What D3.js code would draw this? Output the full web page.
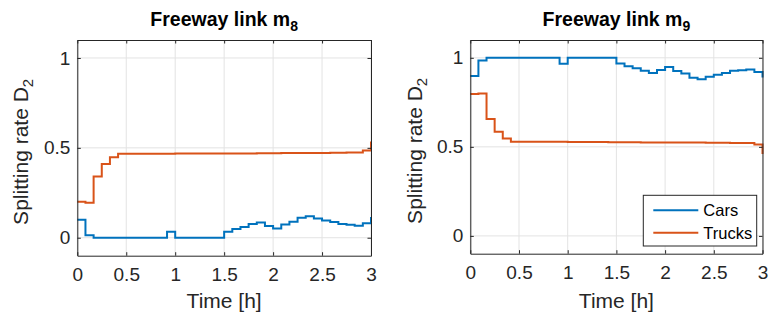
<!DOCTYPE html>
<html>
<head>
<meta charset="utf-8">
<script src="https://cdn.jsdelivr.net/npm/d3@7"></script>
<style>
  html, body { margin: 0; padding: 0; background: #fff; }
  svg { display: block; font-family: "Liberation Sans", Arial, Helvetica, sans-serif; }
</style>
</head>
<body>
<svg id="chart" width="771" height="322"></svg>
<script>
// ---- data (5-minute steps, 0..3 h; last value drawn as final stair riser) ----
const stepHours = 1 / 12;
const seriesNames = ["Cars", "Trucks"];
const xTicks = [0, 0.5, 1, 1.5, 2, 2.5, 3];
const xTickLabels = ["0", "0.5", "1", "1.5", "2", "2.5", "3"];
const yTicks = [0, 0.5, 1];
const yTickLabels = ["0", "0.5", "1"];
const titles = ["Freeway link m", "Freeway link m"];
const titleSubs = ["8", "9"];

const m8Cars = [0.100, 0.014, 0, 0, 0, 0, 0, 0, 0, 0, 0, 0.033, 0, 0, 0, 0, 0, 0,
  0.033, 0.048, 0.059, 0.076, 0.085, 0.065, 0.052, 0.074, 0.089, 0.111, 0.119, 0.107,
  0.096, 0.087, 0.076, 0.072, 0.067, 0.080, 0.115];
const m8Trucks = [0.200, 0.195, 0.340, 0.410, 0.448, 0.467, 0.467, 0.467, 0.467, 0.467,
  0.467, 0.467, 0.468, 0.468, 0.468, 0.468, 0.468, 0.468, 0.469, 0.469, 0.469, 0.469,
  0.470, 0.470, 0.470, 0.471, 0.471, 0.471, 0.472, 0.472, 0.472, 0.473, 0.473, 0.474,
  0.474, 0.485, 0.535];
const m9Cars = [0.898, 0.985, 1, 1, 1, 1, 1, 1, 1, 1, 1, 0.966, 1, 1, 1, 1, 1, 1,
  0.968, 0.953, 0.941, 0.927, 0.915, 0.931, 0.949, 0.926, 0.912, 0.888, 0.880, 0.893,
  0.905, 0.915, 0.927, 0.930, 0.934, 0.920, 0.889];
const m9Trucks = [0.797, 0.800, 0.657, 0.585, 0.547, 0.528, 0.528, 0.528, 0.528, 0.528,
  0.528, 0.528, 0.527, 0.527, 0.527, 0.527, 0.527, 0.526, 0.526, 0.526, 0.526, 0.525,
  0.525, 0.525, 0.525, 0.524, 0.524, 0.524, 0.524, 0.523, 0.523, 0.523, 0.522, 0.522,
  0.522, 0.513, 0.460];

const colors = ["#0072BD", "#D95319"];

// ---- layout ----
const panels = [
  { left: 77.3, right: 371, top: 40, bottom: 255.7, cars: m8Cars, trucks: m8Trucks, title: titles[0], sub: titleSubs[0], legend: false, ylabX: 28 },
  { left: 470.3, right: 762.5, top: 40, bottom: 253.7, cars: m9Cars, trucks: m9Trucks, title: titles[1], sub: titleSubs[1], legend: true, ylabX: 422 }
];

const svg = d3.select("#chart");
const axisColor = "#262626";
const gridColor = "#e3e3e3";

panels.forEach(p => {
  const x = d3.scaleLinear().domain([0, 3]).range([p.left, p.right]);
  const y = d3.scaleLinear().domain([-0.1, 1.1]).range([p.bottom, p.top]);
  const g = svg.append("g");

  // grid
  g.selectAll(".gx").data(xTicks).join("line")
    .attr("x1", d => x(d)).attr("x2", d => x(d))
    .attr("y1", p.top).attr("y2", p.bottom)
    .attr("stroke", gridColor).attr("stroke-width", 1);
  g.selectAll(".gy").data(yTicks).join("line")
    .attr("x1", p.left).attr("x2", p.right)
    .attr("y1", d => y(d)).attr("y2", d => y(d))
    .attr("stroke", gridColor).attr("stroke-width", 1);

  // data
  const line = d3.line().curve(d3.curveStepAfter)
    .x((d, i) => x(i * stepHours)).y(d => y(d));
  [p.cars, p.trucks].forEach((s, k) => {
    g.append("path").attr("d", line(s))
      .attr("fill", "none").attr("stroke", colors[k])
      .attr("stroke-width", 2).attr("stroke-linejoin", "miter");
  });

  // axes (bottom/left with labels, top/right inward ticks only)
  const tickLen = 3.5;
  const axB = d3.axisBottom(x).tickValues(xTicks).tickFormat((d, i) => xTickLabels[i]).tickSizeInner(-tickLen).tickSizeOuter(0).tickPadding(12);
  const axL = d3.axisLeft(y).tickValues(yTicks).tickFormat((d, i) => yTickLabels[i]).tickSizeInner(-tickLen).tickSizeOuter(0).tickPadding(7);
  const axT = d3.axisTop(x).tickValues(xTicks).tickFormat("").tickSizeInner(-tickLen).tickSizeOuter(0);
  const axR = d3.axisRight(y).tickValues(yTicks).tickFormat("").tickSizeInner(-tickLen).tickSizeOuter(0);

  const styleAxis = sel => {
    sel.selectAll("path").attr("stroke", axisColor).attr("stroke-width", 1);
    sel.selectAll("line").attr("stroke", axisColor).attr("stroke-width", 1);
    sel.selectAll("text").attr("fill", axisColor).attr("font-size", 19)
      .attr("font-family", "'Liberation Sans', Arial, sans-serif");
  };
  g.append("g").attr("transform", `translate(0,${p.bottom})`).call(axB).call(styleAxis);
  g.append("g").attr("transform", `translate(${p.left},0)`).call(axL).call(styleAxis);
  g.append("g").attr("transform", `translate(0,${p.top})`).call(axT).call(styleAxis);
  g.append("g").attr("transform", `translate(${p.right},0)`).call(axR).call(styleAxis);

  // title
  const cx = (p.left + p.right) / 2;
  const t = g.append("text").attr("x", cx).attr("y", 26).attr("text-anchor", "middle")
    .attr("font-size", 19.5).attr("font-weight", "bold").attr("fill", "#000");
  t.append("tspan").text(p.title);
  t.append("tspan").attr("dy", 5).attr("font-size", 14).text(p.sub);

  // x label
  g.append("text").attr("x", cx).attr("y", 308).attr("text-anchor", "middle")
    .attr("font-size", 21).attr("fill", axisColor).text("Time [h]");

  // y label
  const yl = g.append("text")
    .attr("transform", `translate(${p.ylabX},${(p.top + p.bottom) / 2 + 4}) rotate(-90)`)
    .attr("text-anchor", "middle").attr("font-size", 21).attr("fill", axisColor);
  yl.append("tspan").text("Splitting rate D");
  yl.append("tspan").attr("dy", 5).attr("font-size", 15).text("2");

  // legend
  if (p.legend) {
    const lx = 643.3, ly = 195.3, lw = 113.4, lh = 50.7;
    const lg = g.append("g");
    lg.append("rect").attr("x", lx).attr("y", ly).attr("width", lw).attr("height", lh)
      .attr("fill", "#fff").attr("stroke", axisColor).attr("stroke-width", 1);
    seriesNames.forEach((name, k) => {
      const yy = ly + 15 + k * 22.4;
      lg.append("line").attr("x1", lx + 10).attr("x2", lx + 55).attr("y1", yy).attr("y2", yy)
        .attr("stroke", colors[k]).attr("stroke-width", 2);
      lg.append("text").attr("x", lx + 60).attr("y", yy + 6).attr("font-size", 16.5)
        .attr("fill", "#000").text(name);
    });
  }
});
</script>
</body>
</html>
